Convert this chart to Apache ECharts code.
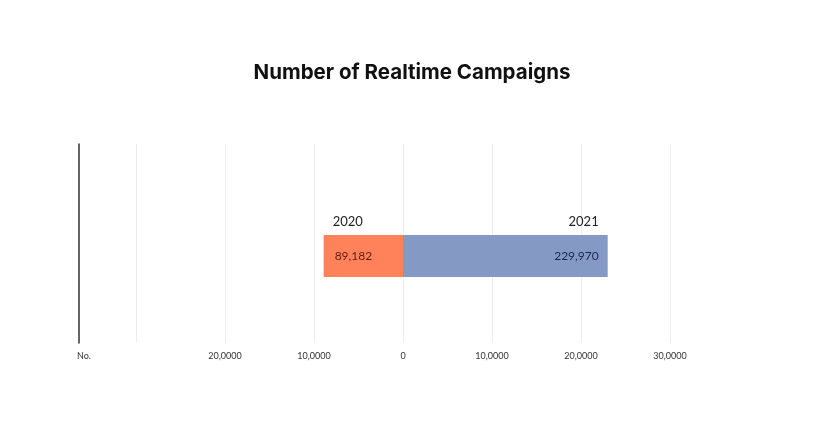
<!DOCTYPE html>
<html>
<head>
<meta charset="utf-8">
<script src="https://cdn.jsdelivr.net/npm/echarts@6/dist/echarts.min.js"></script>
<style>html,body{margin:0;padding:0;background:#fff}#c{width:824px;height:425px}</style>
</head>
<body>
<div id="c"></div>
<script>
const titleText = 'Number of Realtime Campaigns';
const categories = ['', '', '', '', 'Realtime Campaigns', '', '', ''];
const years = ['2020', '2021'];
const values2020 = [null, null, null, null, -89182, null, null, null];
const values2021 = [null, null, null, null, 229970, null, null, null];
const tickLabels = {'-300000': '', '-200000': '20,0000', '-100000': '10,0000', '0': '0', '100000': '10,0000', '200000': '20,0000', '300000': '30,0000'};

const fmtNum = v => Math.abs(v).toLocaleString('en-US');
const chart = echarts.init(document.getElementById('c'));
const font = 'Lato, "Noto Sans", sans-serif';
chart.setOption({
  animation: false,
  backgroundColor: '#fff',
  title: {
    text: titleText, left: 'center', top: 57,
    textStyle: {fontFamily: 'Inter, Lato, sans-serif', fontWeight: 'bold', fontSize: 20.5, color: '#111'}
  },
  grid: {left: 136, right: 154, top: 144, bottom: 82, containLabel: false},
  xAxis: {
    type: 'value', min: -300000, max: 300000, interval: 100000,
    axisLine: {show: false}, axisTick: {show: false},
    splitLine: {show: true, lineStyle: {color: '#ededed', width: 1}},
    axisLabel: {
      margin: 9, fontFamily: font, fontSize: 9, color: '#333',
      formatter: v => tickLabels[String(v)] ?? ''
    }
  },
  yAxis: {
    type: 'category', data: categories, inverse: true, position: 'left',
    offset: 57,
    axisLine: {show: true, onZero: false, lineStyle: {color: '#333', width: 1.5}},
    axisTick: {show: false}, axisLabel: {show: false},
    name: 'No.', nameLocation: 'end', nameGap: 9,
    nameTextStyle: {fontFamily: font, fontSize: 9, color: '#333', align: 'left', padding: [0, 0, 0, -2]}
  },
  series: [
    {
      name: years[0], type: 'bar', stack: 'total', data: values2020, barWidth: 42,
      itemStyle: {color: '#FF825B'},
      label: {
        show: true, position: 'insideLeft', distance: 9,
        formatter: p => '{y|' + years[0] + '}\n{v|' + fmtNum(p.value) + '}\n{e|}',
        rich: {
          y: {fontFamily: font, fontSize: 13, color: '#222', lineHeight: 34},
          v: {fontFamily: font, fontSize: 12, color: '#5c1e0c', lineHeight: 34, padding: [0, 0, 0, 2]},
          e: {lineHeight: 34}
        }
      }
    },
    {
      name: years[1], type: 'bar', stack: 'total', data: values2021, barWidth: 42,
      itemStyle: {color: '#8499C4'},
      label: {
        show: true, position: 'insideRight', distance: 9,
        formatter: p => '{y|' + years[1] + '}\n{v|' + fmtNum(p.value) + '}\n{e|}',
        rich: {
          y: {fontFamily: font, fontSize: 13, color: '#222', lineHeight: 34, align: 'right'},
          v: {fontFamily: font, fontSize: 12, color: '#1c2650', lineHeight: 34, align: 'right'},
          e: {lineHeight: 34}
        }
      }
    }
  ]
});
</script>
</body>
</html>
